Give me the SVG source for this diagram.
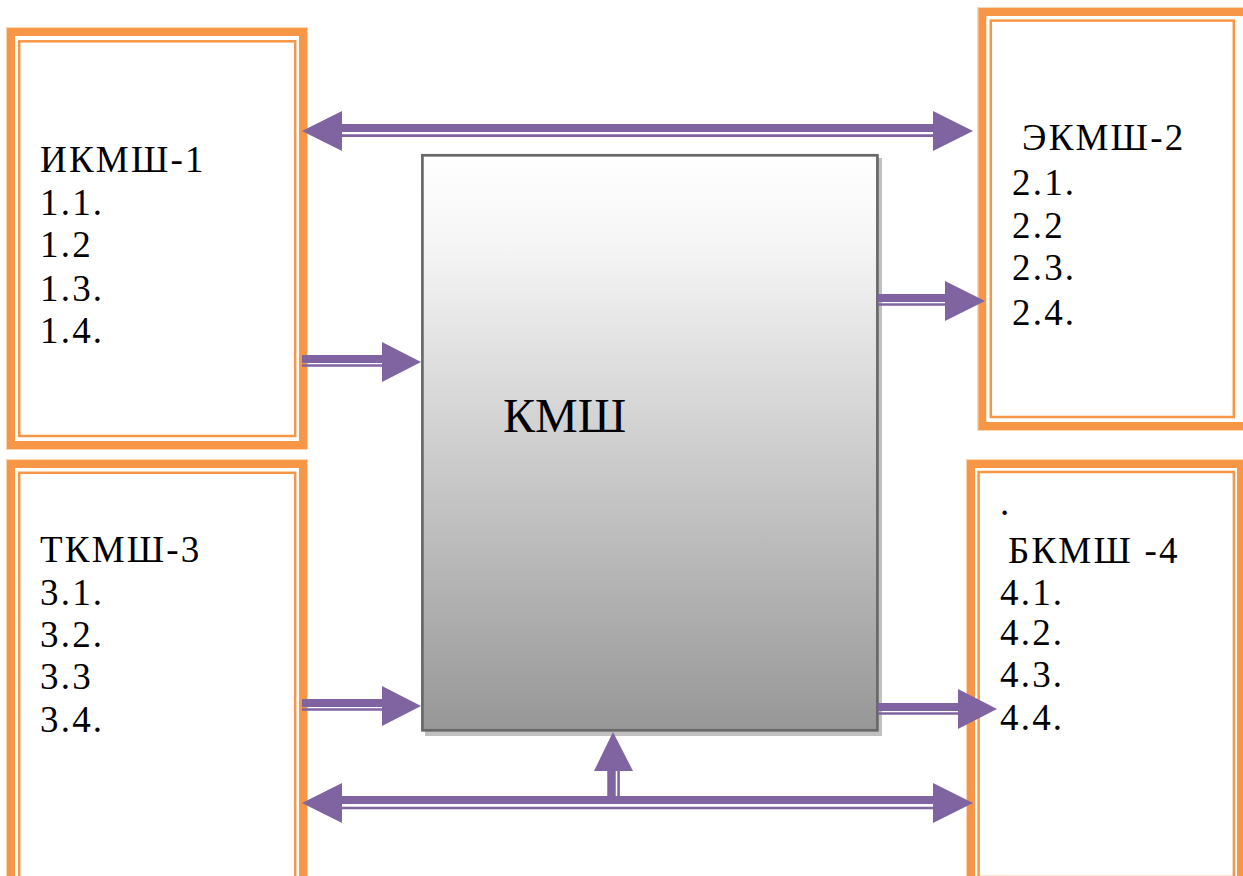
<svg xmlns="http://www.w3.org/2000/svg" width="1243" height="876" viewBox="0 0 1243 876">
<defs>
<linearGradient id="g" x1="0" y1="0" x2="0" y2="1">
<stop offset="0" stop-color="#ffffff"/>
<stop offset="0.15" stop-color="#f6f6f6"/>
<stop offset="1" stop-color="#979797"/>
</linearGradient>
<style>
.thick{fill:none;stroke:#F79646;stroke-width:8}
.halo{fill:none;stroke:#FCD5B5;stroke-width:1}
.thin{fill:none;stroke:#F79646;stroke-width:2.5}
.t{font-family:"Liberation Serif","Times New Roman","DejaVu Serif",serif;font-size:37px;letter-spacing:2.2px;fill:#000}
.big{font-family:"Liberation Serif","Times New Roman","DejaVu Serif",serif;font-size:48px;fill:#000}
.sh{stroke:#8064A2;fill:none}
.hd{fill:#8064A2}
</style>
</defs>
<rect width="1243" height="876" fill="#fff"/>

<g id="box1">
<rect class="halo" x="6.5" y="27.5" width="301" height="422"/>
<rect class="thick" x="11" y="32" width="292" height="413"/>
<rect class="thin" x="19.2" y="41.3" width="276" height="394.7"/>
<text class="t" x="40" y="172">ИКМШ-1</text>
<text class="t" x="40" y="215">1.1.</text>
<text class="t" x="40" y="257">1.2</text>
<text class="t" x="40" y="301">1.3.</text>
<text class="t" x="40" y="343">1.4.</text>
</g>

<g id="box2">
<rect class="halo" x="977.5" y="7.5" width="280" height="423"/>
<rect class="thick" x="982.3" y="12" width="270" height="414"/>
<rect class="thin" x="990.8" y="20.6" width="243" height="396.4"/>
<text class="t" x="1022" y="150">ЭКМШ-2</text>
<text class="t" x="1012" y="195">2.1.</text>
<text class="t" x="1012" y="238">2.2</text>
<text class="t" x="1012" y="280">2.3.</text>
<text class="t" x="1012" y="325">2.4.</text>
</g>

<g id="box3">
<rect class="halo" x="6.5" y="459.5" width="301" height="430"/>
<rect class="thick" x="11" y="464" width="292" height="420"/>
<rect class="thin" x="19.2" y="472.8" width="276" height="405"/>
<text class="t" x="40" y="562">ТКМШ-3</text>
<text class="t" x="40" y="605">3.1.</text>
<text class="t" x="40" y="647">3.2.</text>
<text class="t" x="40" y="689">3.3</text>
<text class="t" x="40" y="732">3.4.</text>
</g>

<g id="box4">
<rect class="halo" x="966.5" y="459.5" width="280" height="430"/>
<rect class="thick" x="971" y="464" width="270" height="420"/>
<rect class="thin" x="978.6" y="472" width="255.3" height="405"/>
<text class="t" x="1000" y="515">.</text>
<text class="t" x="1008" y="563">БКМШ -4</text>
<text class="t" x="1000" y="605">4.1.</text>
<text class="t" x="1000" y="645">4.2.</text>
<text class="t" x="1000" y="687">4.3.</text>
<text class="t" x="1000" y="730">4.4.</text>
</g>

<g id="kmsh">
<rect x="425" y="158" width="457" height="578" fill="#c0c0c0"/>
<rect x="422.4" y="155.3" width="455" height="575" fill="url(#g)" stroke="#686868" stroke-width="2.7"/>
<text class="big" x="503" y="432">КМШ</text>
</g>

<g id="connectors">
<!-- top double arrow -->
<line class="sh" x1="340" y1="128" x2="935" y2="128" stroke-width="8"/>
<line class="sh" x1="340" y1="135.6" x2="935" y2="135.6" stroke-width="2.6"/>
<polygon class="hd" points="302,131 342,111 342,151"/>
<polygon class="hd" points="973,131 933,111 933,151"/>
<!-- box1 -> kmsh -->
<line class="sh" x1="302" y1="359" x2="384" y2="359" stroke-width="8"/>
<line class="sh" x1="302" y1="365.5" x2="384" y2="365.5" stroke-width="2.4"/>
<polygon class="hd" points="421,362 382,342 382,382"/>
<!-- kmsh -> box2 -->
<line class="sh" x1="878" y1="298" x2="947" y2="298" stroke-width="8"/>
<line class="sh" x1="878" y1="304.5" x2="947" y2="304.5" stroke-width="2.4"/>
<polygon class="hd" points="985,301 945,281 945,321"/>
<!-- box3 -> kmsh -->
<line class="sh" x1="302" y1="703" x2="384" y2="703" stroke-width="8"/>
<line class="sh" x1="302" y1="709.5" x2="384" y2="709.5" stroke-width="2.4"/>
<polygon class="hd" points="421,706 382,686 382,726"/>
<!-- kmsh -> box4 -->
<line class="sh" x1="878" y1="707" x2="960" y2="707" stroke-width="8"/>
<line class="sh" x1="878" y1="713.5" x2="960" y2="713.5" stroke-width="2.4"/>
<polygon class="hd" points="997,709 958,689 958,729"/>
<!-- bottom double arrow -->
<line class="sh" x1="340" y1="800" x2="935" y2="800" stroke-width="8"/>
<line class="sh" x1="340" y1="808" x2="935" y2="808" stroke-width="2.6"/>
<polygon class="hd" points="302,803 342,783 342,823"/>
<polygon class="hd" points="973,803 933,783 933,823"/>
<!-- vertical up arrow -->
<line class="sh" x1="611.5" y1="769" x2="611.5" y2="797" stroke-width="8.5"/>
<line class="sh" x1="618.6" y1="769" x2="618.6" y2="797" stroke-width="2.6"/>
<polygon class="hd" points="613,732 594,771 633,771"/>
</g>
</svg>
